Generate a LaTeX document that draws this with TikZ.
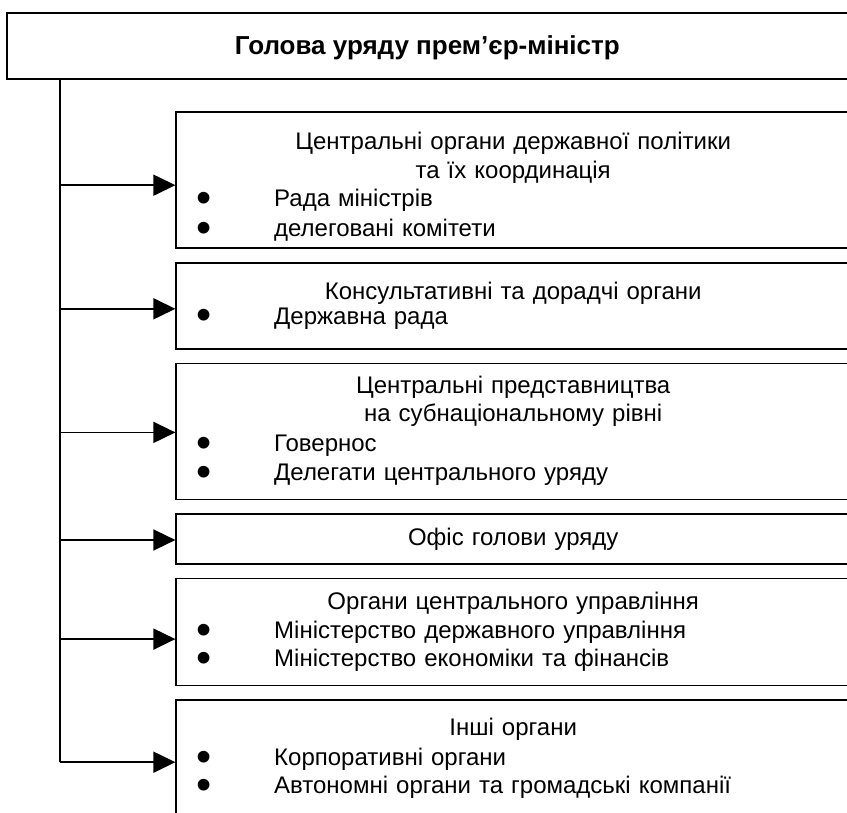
\documentclass[tikz,border=0pt]{standalone}
\usepackage{fontspec}
\setmainfont{Liberation Sans}
\usepackage{graphicx}
\usetikzlibrary{arrows.meta,positioning}
\tikzstyle{chief}=[rectangle,line width=1.6pt,draw=black,anchor=north west,
minimum width=841pt,minimum height=66pt,inner sep=0pt,
font=\fontsize{26}{30}\selectfont\bfseries]
\tikzstyle{organ}=[rectangle,line width=1.6pt,draw=black,text width=674pt,
inner sep=0pt,align=center,font=\fontsize{24}{28}\selectfont]
\tikzstyle{feed}=[line width=1.6pt,-{Triangle[length=22pt,width=21pt]}]
\newcommand{\organitem}[1]{\makebox[674pt][l]{\hspace{20pt}%
\makebox[78pt][l]{\raisebox{-6pt}{\scalebox{1.8}{•}}}#1}}

\begin{document}
\begin{tikzpicture}[x=1pt,y=-1pt]
    \path[use as bounding box,clip] (0,0) rectangle (847,813);
    % Head of the government on top
    \node (chief) [chief] at (6,12) {\rule{0pt}{22pt}Голова уряду прем’єр-міністр};
    % The subordinate bodies, one box per row:
    \matrix (bodies) [row sep=13pt,inner sep=0pt,anchor=north west] at (175.2,111.2) {
      % First row: policy coordination
      \node (b_1) [organ,minimum height=136pt] {\rule{0pt}{32pt}Центральні органи державної політики\\[1pt]
        та їх координація\\ \organitem{Рада міністрів}\\[2pt] \organitem{делеговані комітети}};
      \\
      % Second row: advisory bodies
      \node (b_2) [organ,minimum height=86pt] {Консультативні та дорадчі органи\\[-3pt]
        \organitem{Державна рада}};
      \\
      % Third row: subnational representation
      \node (b_3) [organ,minimum height=136pt] {Центральні представництва\\
        на субнаціональному рівні\\[2pt] \organitem{Говернос}\\[1pt]
        \organitem{Делегати центрального уряду}};
      \\
      % Fourth row: the office
      \node (b_4) [organ,minimum height=50pt] {Офіс голови уряду};
      \\
      % Fifth row: central administration
      \node (b_5) [organ,minimum height=107pt] {Органи центрального управління\\[1pt]
        \organitem{Міністерство державного управління}\\
        \organitem{Міністерство економіки та фінансів}};
      \\
      % Sixth row: other bodies
      \node (b_6) [organ,minimum height=118pt] {Інші органи\\[2pt]
        \organitem{Корпоративні органи}\\
        \organitem{Автономні органи та громадські компанії}};
      \\
    };
    % The trunk and the arrows into the boxes:
    \coordinate (sp) at (60,0);
    \foreach \i/\dy in {1/-5,2/-3,3/-1,4/-1,5/-7,6/-3}
      \coordinate (a_\i) at ([yshift=\dy pt]b_\i.west);
    \draw[line width=1.6pt] (chief.south -| sp) -- (sp |- a_6);
    \foreach \i in {1,...,6}
      \draw[feed] (sp |- a_\i) -- (a_\i);
\end{tikzpicture}
\end{document}
